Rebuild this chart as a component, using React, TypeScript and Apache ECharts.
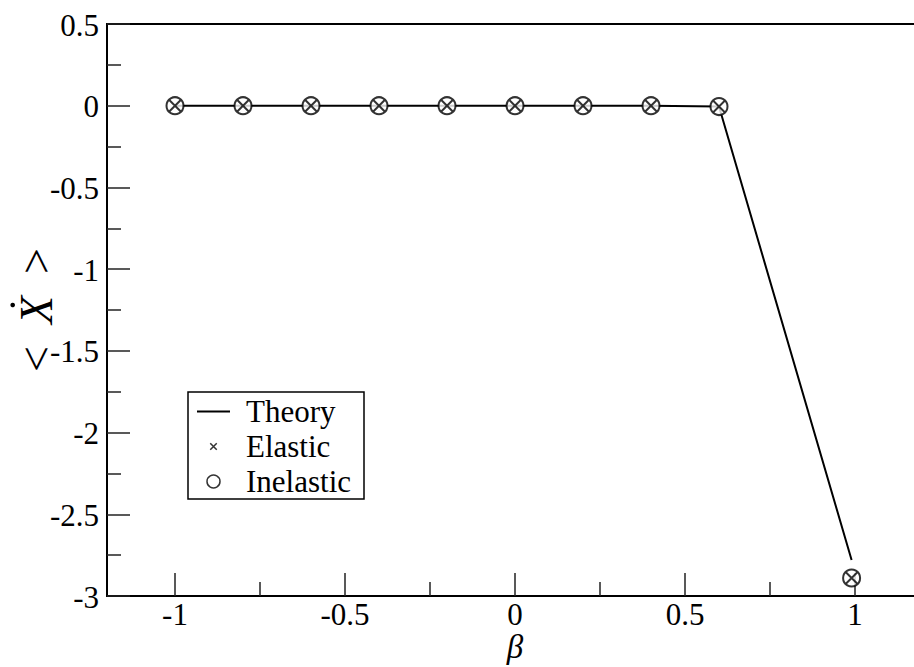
import React, { useEffect, useRef } from 'react';
import * as echarts from 'echarts';

const beta = [-1, -0.8, -0.6, -0.4, -0.2, 0, 0.2, 0.4, 0.6, 0.99];
const theory = [0, 0, 0, 0, 0, 0, 0, 0, -0.005, -2.78];
const elastic = [0, 0, 0, 0, 0, 0, 0, 0, -0.005, -2.89];
const inelastic = [0, 0, 0, 0, 0, 0, 0, 0, -0.005, -2.89];
const xMajorTicks = [-1, -0.5, 0, 0.5, 1];
const xMinorTicks = [-0.75, -0.25, 0.25, 0.75];
const yTicks = [0.5, 0, -0.5, -1, -1.5, -2, -2.5, -3];
const seriesNames = ['Theory', 'Elastic', 'Inelastic'];
const xName = 'β';
const yNameParts = ['<', 'X', '>'];

const FONT = 'Liberation Serif';
const tickStyle = { color: '#222', width: 1.5 };
const X_MIN = -1.2, X_MAX = 1.2, Y_MIN = -3, Y_MAX = 0.5;

export default function App() {
  const ref = useRef<HTMLDivElement>(null);
  useEffect(() => {
    if (!ref.current) return;
    const chart = echarts.init(ref.current, undefined, { renderer: 'svg' });
    const pairs = (ys: number[]) => beta.map((b, i) => [b, ys[i]]);
    chart.setOption({
      animation: false,
      backgroundColor: '#fff',
      textStyle: { fontFamily: FONT },
      grid: {
        left: 107, right: -9, top: 24, bottom: 71,
        outerBoundsMode: 'none', containLabel: false,
        show: true, borderColor: '#000', borderWidth: 2, backgroundColor: 'transparent',
      },
      legend: {
        orient: 'vertical', left: 188, top: 392,
        padding: [4, 13, 2, 9], itemGap: 4, itemWidth: 33, itemHeight: 13,
        backgroundColor: '#fff', borderColor: '#000', borderWidth: 1.5, borderRadius: 0,
        selectedMode: false,
        textStyle: { fontSize: 31, fontFamily: FONT, color: '#000', padding: [0, 0, 0, 11] },
        data: [
          { name: seriesNames[0], icon: 'path://M0,0H33V2H0Z', itemStyle: { color: '#000', borderWidth: 0 } },
          { name: seriesNames[1], icon: 'path://M0,0M14,14M3.5,3.5L10.5,10.5M10.5,3.5L3.5,10.5', itemStyle: { borderWidth: 1.5 } },
          { name: seriesNames[2], icon: 'circle', itemStyle: { borderWidth: 1.5 } },
        ],
      },
      xAxis: [
        {
          type: 'value', min: X_MIN, max: X_MAX, position: 'bottom',
          axisLine: { show: true, onZero: false, lineStyle: { color: '#000', width: 2 } },
          axisTick: { show: true, inside: true, length: 23, customValues: xMajorTicks, lineStyle: tickStyle },
          axisLabel: { show: false },
          splitLine: { show: false },
        },
        {
          type: 'value', min: X_MIN, max: X_MAX, position: 'bottom',
          axisLine: { show: false, onZero: false },
          axisTick: { show: true, inside: true, length: 14, customValues: xMinorTicks, lineStyle: tickStyle },
          axisLabel: { show: false },
          splitLine: { show: false },
        },
      ],
      yAxis: {
        type: 'value', min: Y_MIN, max: Y_MAX, interval: 0.5,
        axisLine: { show: true, onZero: false, lineStyle: { color: '#000', width: 2 } },
        axisTick: { show: true, inside: true, length: 23, lineStyle: tickStyle },
        minorTick: { show: true, splitNumber: 2, length: 14, lineStyle: tickStyle },
        axisLabel: { show: false },
        splitLine: { show: false },
        minorSplitLine: { show: false },
      },
      series: [
        {
          name: seriesNames[0], type: 'line', xAxisIndex: 0, data: pairs(theory),
          symbol: 'none', lineStyle: { color: '#000', width: 2 }, itemStyle: { color: '#000' },
          z: 2, silent: true,
        },
        {
          name: seriesNames[1], type: 'scatter', xAxisIndex: 0, data: pairs(elastic),
          symbol: 'path://M0,0L10,10M10,0L0,10', symbolSize: 11,
          itemStyle: { color: 'transparent', borderColor: '#000', borderWidth: 2 },
          z: 4, silent: true,
        },
        {
          name: seriesNames[2], type: 'scatter', xAxisIndex: 0, data: pairs(inelastic),
          symbol: 'circle', symbolSize: 17,
          itemStyle: { color: '#fff', borderColor: '#000', borderWidth: 2 },
          z: 3, silent: true,
        },
      ],
    });

    // Tick labels and axis titles placed through the chart's own scales.
    const axisX = chart.convertToPixel({ xAxisIndex: 0 }, X_MIN) as number;
    const axisXEnd = chart.convertToPixel({ xAxisIndex: 0 }, X_MAX) as number;
    const axisY = chart.convertToPixel({ yAxisIndex: 0 }, Y_MIN) as number;
    const axisYTop = chart.convertToPixel({ yAxisIndex: 0 }, Y_MAX) as number;
    const labelStyle = { fontSize: 31, fontFamily: FONT, fill: '#000' };
    const graphics: any[] = [];
    xMajorTicks.forEach((v) => {
      graphics.push({
        type: 'text', silent: true,
        x: chart.convertToPixel({ xAxisIndex: 0 }, v) as number, y: axisY + 18.5,
        style: { ...labelStyle, text: String(v), align: 'center', verticalAlign: 'middle' },
      });
    });
    yTicks.forEach((v) => {
      graphics.push({
        type: 'text', silent: true,
        x: axisX - 8, y: (chart.convertToPixel({ yAxisIndex: 0 }, v) as number) + 1,
        style: { ...labelStyle, text: String(v), align: 'right', verticalAlign: 'middle' },
      });
    });
    graphics.push({
      type: 'text', silent: true,
      x: (axisX + axisXEnd) / 2, y: axisY + 51,
      style: {
        text: xName, fontSize: 33, fontStyle: 'italic', fontFamily: FONT, fill: '#000',
        align: 'center', verticalAlign: 'middle', lineHeight: 28,
      },
    });
    const yMid = (axisY + axisYTop) / 2;
    graphics.push({
      type: 'text', silent: true,
      x: axisX - 70.5, y: yMid,
      rotation: Math.PI / 2,
      style: {
        text: `{n|${yNameParts[0]}}{s| }{i|${yNameParts[1]}}{s| }{n|${yNameParts[2]}}`,
        fontSize: 46, fontFamily: FONT, fill: '#000',
        align: 'center', verticalAlign: 'middle',
        rich: {
          n: { fontSize: 46, fontFamily: FONT, fill: '#000' },
          s: { fontSize: 46, fontFamily: FONT, width: 22 },
          i: { fontSize: 46, fontFamily: FONT, fontStyle: 'italic', fill: '#000' },
        },
      },
    });
    // the time-derivative dot above the rotated X
    graphics.push({
      type: 'circle', silent: true,
      shape: { cx: axisX - 94.3, cy: yMid - 5, r: 2.3 },
      style: { fill: '#000' },
    });
    chart.setOption({ graphic: graphics });
    return () => chart.dispose();
  }, []);
  return (
    <div
      ref={ref}
      style={{ position: 'fixed', left: 0, top: 0, width: 914, height: 667, background: '#fff' }}
    />
  );
}
